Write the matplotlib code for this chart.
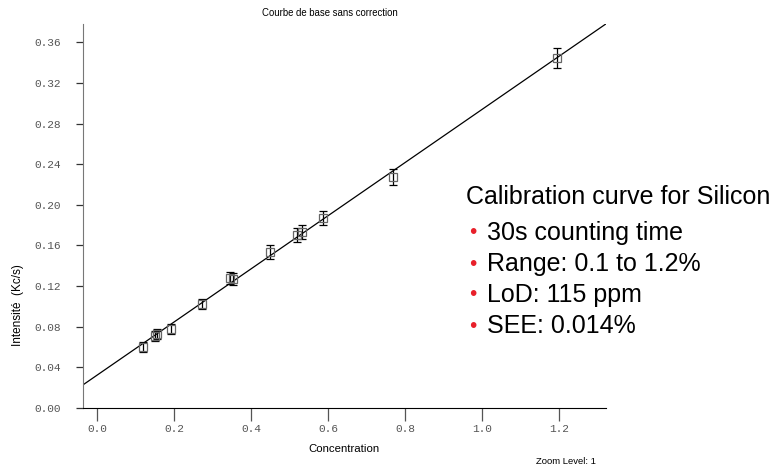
import numpy as np
import matplotlib
matplotlib.use("Agg")
import matplotlib.pyplot as plt
from matplotlib.transforms import ScaledTranslation

# Calibration points
concentration = [0.119, 0.151, 0.154, 0.191, 0.273, 0.345, 0.352, 0.449, 0.518, 0.533, 0.586, 0.769, 1.195]
intensity = [0.060, 0.071, 0.0726, 0.078, 0.1025, 0.128, 0.127, 0.1536, 0.170, 0.173, 0.187, 0.2277, 0.3445]
errors = [0.005, 0.005, 0.005, 0.005, 0.005, 0.006, 0.006, 0.007, 0.007, 0.007, 0.007, 0.008, 0.010]

x_ticks = [0.0, 0.2, 0.4, 0.6, 0.8, 1.0, 1.2]
y_ticks = [0.00, 0.04, 0.08, 0.12, 0.16, 0.20, 0.24, 0.28, 0.32, 0.36]

notes_title = "Calibration curve for Silicon"
notes = ["30s counting time", "Range: 0.1 to 1.2%", "LoD: 115 ppm", "SEE: 0.014%"]

fig = plt.figure(figsize=(7.78, 4.68), dpi=100)
ax = fig.add_axes([0.1067, 0.1286, 0.672, 0.820])

xlim = (-0.037, 1.321)
ylim = (0.0, 0.378)

# least squares calibration line across the full x range
slope, intercept = np.polyfit(concentration, intensity, 1)
xs = np.array(xlim)
ax.plot(xs, slope * xs + intercept, color="black", lw=0.9, zorder=2)

ax.errorbar(concentration, intensity, yerr=errors, fmt="none", ecolor="black",
            elinewidth=0.9, capsize=3.1, capthick=0.9, zorder=3)
ax.plot(concentration, intensity, "s", ms=5.5, mfc="none", mec="#666666", mew=0.9, zorder=4)

ax.set_xlim(*xlim)
ax.set_ylim(*ylim)
ax.set_xticks(x_ticks)
ax.set_yticks(y_ticks)
ax.set_xticklabels([f"{v:.1f}" for v in x_ticks])
ax.set_yticklabels([f"{v:.2f}" for v in y_ticks])

for lab in ax.get_xticklabels() + ax.get_yticklabels():
    lab.set_fontfamily("Liberation Mono")
    lab.set_fontsize(8)
    lab.set_color("#555555")

# y labels sit a little above their ticks in the original
shift = ScaledTranslation(0, 4 / 100, fig.dpi_scale_trans)
for lab in ax.get_yticklabels():
    lab.set_transform(lab.get_transform() + shift)

ax.spines["top"].set_visible(False)
ax.spines["right"].set_visible(False)
ax.spines["left"].set_color("#777777")
ax.spines["bottom"].set_color("black")
ax.tick_params(axis="x", length=9.5, width=0.9, pad=2, direction="out", color="#555555")
ax.tick_params(axis="y", length=5, width=0.9, pad=11, direction="out", color="#333333")

ax.set_xlabel("Concentration", fontsize=8.2, family="Liberation Sans", labelpad=7)
fig.text(0.023, 0.348, "Intensité  (Kc/s)", rotation=90, fontsize=8.5, family="Liberation Sans",
         ha="center", va="center")
fig.text(330 / 778, 1 - 13 / 468, "Courbe de base sans correction", fontsize=6.9,
         family="Liberation Sans", ha="center", va="center")
fig.text(566 / 778, 1 - 462 / 468, "Zoom Level: 1", fontsize=6.8, family="Liberation Sans",
         ha="center", va="center")

# side notes
fig.text(466 / 778, 1 - 197 / 468, notes_title, fontsize=18, family="Liberation Sans",
         ha="left", va="center")
for i, line in enumerate(notes):
    y = 1 - (233 + i * 31) / 468
    fig.text(469 / 778, y, "•", fontsize=15, color="#e8202a", family="Liberation Sans",
             ha="left", va="center")
    fig.text(487 / 778, y, line, fontsize=18, family="Liberation Sans", ha="left", va="center")

fig.savefig("out.png", dpi=100)
